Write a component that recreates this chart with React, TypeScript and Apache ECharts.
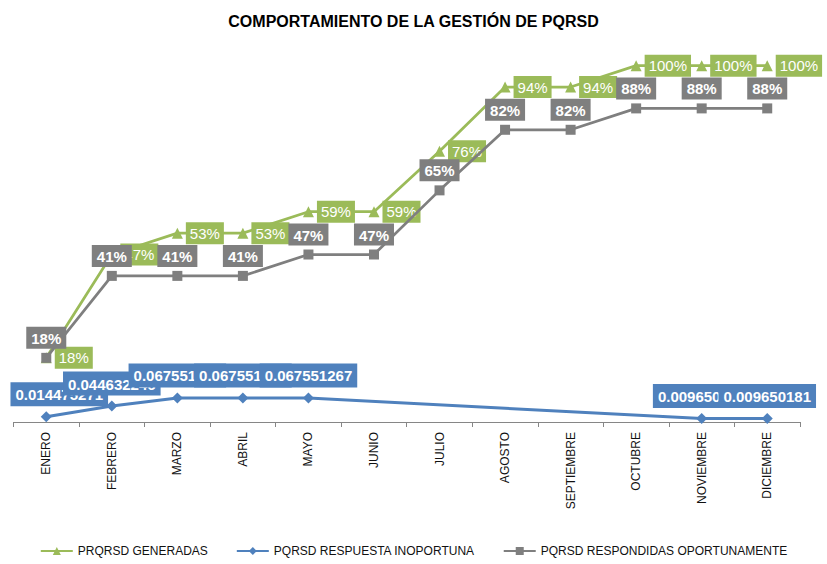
import React, { useEffect, useRef } from "react";
import * as echarts from "echarts";

const months = ["ENERO", "FEBRERO", "MARZO", "ABRIL", "MAYO", "JUNIO", "JULIO", "AGOSTO", "SEPTIEMBRE", "OCTUBRE", "NOVIEMBRE", "DICIEMBRE"];
const generadas = [0.18, 0.47, 0.53, 0.53, 0.59, 0.59, 0.76, 0.94, 0.94, 1.0, 1.0, 1.0];
const inoportuna: (number | null)[] = [0.014475271, 0.044632246, 0.067551267, 0.067551267, 0.067551267, null, null, null, null, null, 0.009650181, 0.009650181];
const oportunas = [0.18, 0.41, 0.41, 0.41, 0.47, 0.47, 0.65, 0.82, 0.82, 0.88, 0.88, 0.88];

const GREEN = "#9BBB59";
const BLUE = "#4F81BD";
const GRAY = "#7F7F7F";
const FONT = "'Liberation Sans', Arial, sans-serif";

export default function App() {
  const ref = useRef<HTMLDivElement>(null);
  useEffect(() => {
    if (!ref.current) return;
    const chart = echarts.init(ref.current, undefined, { renderer: "svg" });
    const pct = (p: any) => Math.round(p.value * 100) + "%";
    chart.setOption({
      animation: false,
      backgroundColor: "#ffffff",
      textStyle: { fontFamily: FONT },
      title: {
        text: "COMPORTAMIENTO DE LA GESTIÓN DE PQRSD",
        left: "center",
        top: 8,
        textStyle: { fontFamily: FONT, fontSize: 16, fontWeight: "bold", color: "#000" },
      },
      legend: {
        bottom: 2,
        left: "center",
        itemWidth: 32,
        itemHeight: 10,
        itemGap: 28,
        textStyle: { fontFamily: FONT, fontSize: 12, color: "#111" },
        data: ["PRQRSD GENERADAS", "PQRSD RESPUESTA INOPORTUNA", "PQRSD RESPONDIDAS OPORTUNAMENTE"],
      },
      grid: { left: 13.5, right: 27, top: 30, bottom: 142 },
      xAxis: {
        type: "category",
        data: months,
        boundaryGap: true,
        axisLine: { lineStyle: { color: "#868686", width: 1 } },
        axisTick: { show: true, length: 5, lineStyle: { color: "#868686" } },
        axisLabel: { rotate: 90, margin: 10, fontFamily: FONT, fontSize: 12, color: "#111" },
      },
      yAxis: {
        type: "value",
        min: 0,
        max: 1.1,
        show: false,
        splitLine: { show: false },
      },
      series: [
        {
          name: "PRQRSD GENERADAS",
          type: "line",
          data: generadas,
          symbol: "triangle",
          symbolSize: 11,
          itemStyle: { color: GREEN },
          lineStyle: { color: GREEN, width: 2.75 },
          z: 2,
          label: {
            show: true,
            position: "right",
            distance: 3,
            formatter: pct,
            color: "#fff",
            backgroundColor: GREEN,
            fontFamily: FONT,
            fontSize: 15,
            padding: [4, 4, 3, 4],
          },
        },
        {
          name: "PQRSD RESPUESTA INOPORTUNA",
          type: "line",
          data: inoportuna.map((v, i) => (i === 0 ? { value: v, label: { offset: [13, 0] } } : v)),
          connectNulls: true,
          symbol: "diamond",
          symbolSize: 11,
          itemStyle: { color: BLUE },
          lineStyle: { color: BLUE, width: 3 },
          z: 3,
          label: {
            show: true,
            position: "top",
            distance: 5,
            formatter: (p: any) => String(p.value),
            color: "#fff",
            backgroundColor: BLUE,
            fontFamily: FONT,
            fontWeight: "bold",
            fontSize: 15,
            padding: [5, 5, 4, 5],
          },
        },
        {
          name: "PQRSD RESPONDIDAS OPORTUNAMENTE",
          type: "line",
          data: oportunas,
          symbol: "rect",
          symbolSize: 10,
          itemStyle: { color: GRAY },
          lineStyle: { color: GRAY, width: 2.75 },
          z: 4,
          label: {
            show: true,
            position: "top",
            distance: 4,
            formatter: pct,
            color: "#fff",
            backgroundColor: GRAY,
            fontFamily: FONT,
            fontWeight: "bold",
            fontSize: 15,
            padding: [4, 5, 3, 5],
          },
        },
      ],
    });
    return () => chart.dispose();
  }, []);
  return (
    <div
      ref={ref}
      style={{ position: "fixed", left: 0, top: 0, width: 827, height: 564, background: "#fff" }}
    />
  );
}
